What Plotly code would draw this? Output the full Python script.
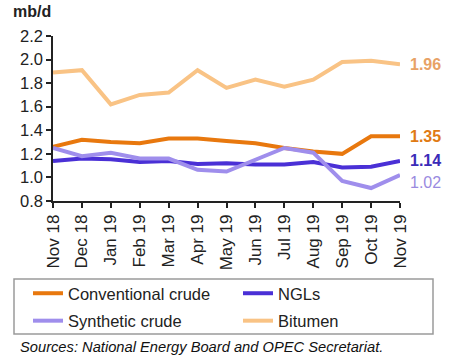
import plotly.graph_objects as go

months = ["Nov 18", "Dec 18", "Jan 19", "Feb 19", "Mar 19", "Apr 19", "May 19",
          "Jun 19", "Jul 19", "Aug 19", "Sep 19", "Oct 19", "Nov 19"]
conventional = [1.26, 1.32, 1.30, 1.29, 1.33, 1.33, 1.31, 1.29, 1.25, 1.22, 1.20, 1.35, 1.35]
ngls = [1.14, 1.16, 1.155, 1.13, 1.14, 1.115, 1.12, 1.11, 1.11, 1.13, 1.085, 1.09, 1.14]
synthetic = [1.25, 1.18, 1.21, 1.16, 1.16, 1.065, 1.05, 1.15, 1.25, 1.21, 0.97, 0.91, 1.02]
bitumen = [1.89, 1.91, 1.62, 1.70, 1.72, 1.91, 1.76, 1.83, 1.77, 1.83, 1.98, 1.99, 1.96]

yticks = [0.8, 1.0, 1.2, 1.4, 1.6, 1.8, 2.0, 2.2]

FONT = "Liberation Sans, Arial, sans-serif"

# plot area in pixels: x 53..400, y 36..201
L, R, T, B = 53, 400, 36, 201
W, H = R - L, B - T


def px(x):
    return (x - L) / W


def py(y):
    return (B - y) / H


series = [
    ("Conventional crude", conventional, "#E8780E", "#E07A14", "legend", True, 0),
    ("NGLs", ngls, "#4A30D6", "#3B2BB8", "legend2", True, 0),
    ("Synthetic crude", synthetic, "#9F8EEC", "#9A8ADF", "legend", False, -7),
    ("Bitumen", bitumen, "#F9C385", "#E8A266", "legend2", True, 0),
]

fig = go.Figure()
for name, vals, col, lcol, leg, bold, ysh in series:
    fig.add_trace(go.Scatter(
        x=months, y=vals, mode="lines", name=name,
        line=dict(color=col, width=4), legend=leg, legendgroup=name,
    ))
    fig.add_annotation(
        x=months[-1], y=vals[-1], xref="x", yref="y",
        text=(f"<b>{vals[-1]:.2f}</b>" if bold else f"{vals[-1]:.2f}"),
        showarrow=False, xanchor="left", yanchor="middle", xshift=8, yshift=ysh,
        font=dict(family=FONT, size=16, color=lcol),
    )

fig.add_annotation(
    x=px(11), y=py(12), xref="paper", yref="paper", text="<b>mb/d</b>", showarrow=False,
    xanchor="left", yanchor="middle",
    font=dict(family=FONT, size=16, color="#222"),
)

fig.add_annotation(
    text="<i>Sources: National Energy Board and OPEC Secretariat.</i>",
    xref="paper", yref="paper", x=px(18), y=py(347),
    xanchor="left", yanchor="middle", showarrow=False,
    font=dict(family=FONT, size=14.7, color="#111"),
)

fig.add_shape(
    type="rect", xref="paper", yref="paper",
    x0=px(14), x1=px(433), y0=py(279), y1=py(334),
    line=dict(color="#9a9a9a", width=1.5), fillcolor="rgba(0,0,0,0)",
)

legend_common = dict(
    orientation="v", xanchor="left", yanchor="top",
    font=dict(family=FONT, size=16.5, color="#222"),
    bgcolor="rgba(0,0,0,0)", borderwidth=0, tracegroupgap=3,
)

fig.update_layout(
    width=453, height=360,
    margin=dict(l=L, r=453 - R, t=T, b=360 - B, autoexpand=False),
    paper_bgcolor="white", plot_bgcolor="white",
    font=dict(family=FONT, size=15, color="#222"),
    showlegend=True,
    legend=dict(x=px(28), y=py(276), **legend_common),
    legend2=dict(x=px(238), y=py(276), **legend_common),
    xaxis=dict(
        type="category", range=[0, 12], showgrid=False, zeroline=False,
        showline=True, linecolor="#222", linewidth=1.5,
        ticks="outside", ticklen=5, tickcolor="#222", tickwidth=1.5,
        tickangle=-90, tickfont=dict(family=FONT, size=17, color="#222"),
    ),
    yaxis=dict(
        range=[0.8, 2.2], tickvals=yticks, tickformat=".1f",
        showgrid=False, zeroline=False,
        showline=True, linecolor="#222", linewidth=1.5,
        ticks="outside", ticklen=5, tickcolor="#222", tickwidth=1.5,
        tickfont=dict(family=FONT, size=16.5, color="#222"),
    ),
)

fig.write_html("out.html", config={"displayModeBar": False},
               post_script="document.body.style.margin='0px';")
